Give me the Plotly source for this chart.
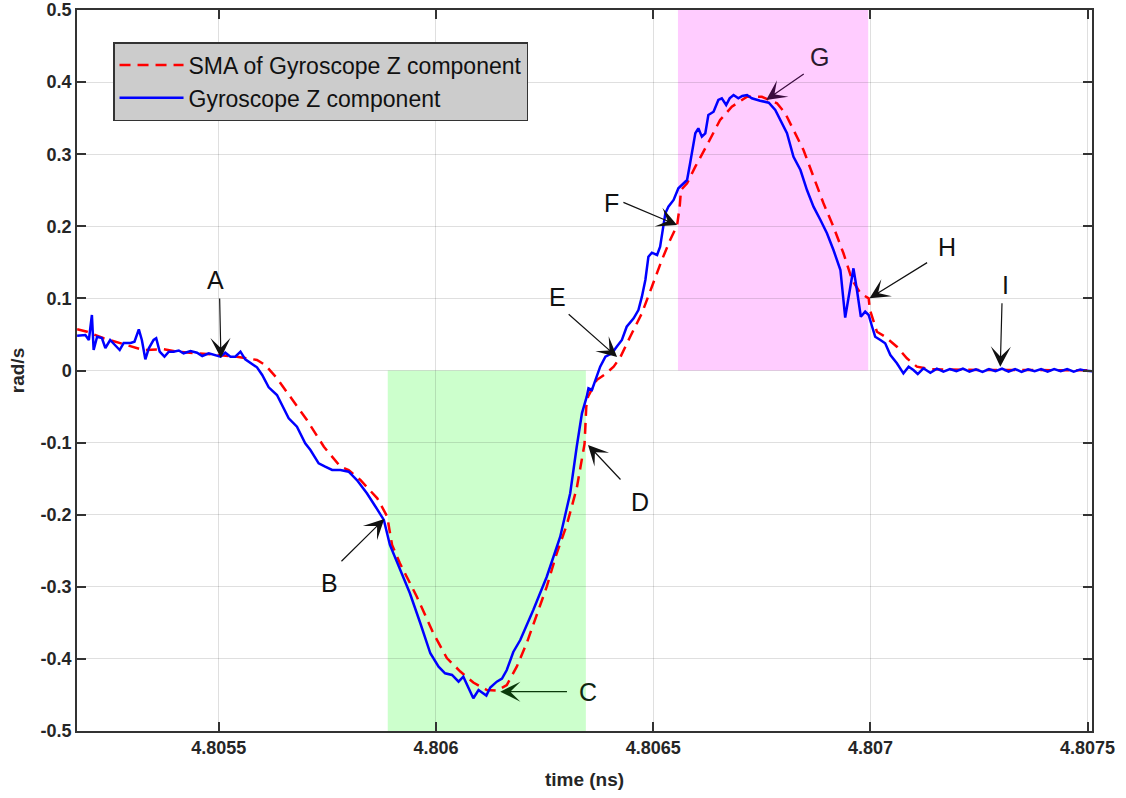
import plotly.graph_objects as go

# ---------------- data (time in ns, angular rate in rad/s) ----------------
gyro_time = [
    4.805174, 4.805193, 4.805201, 4.805208, 4.805212, 4.805220, 4.805231, 4.805239, 4.805250, 4.805262,
    4.805272, 4.805281, 4.805297, 4.805306, 4.805316, 4.805323, 4.805331, 4.805339, 4.805350, 4.805356,
    4.805364, 4.805375, 4.805385, 4.805396, 4.805408, 4.805419, 4.805435, 4.805450, 4.805462, 4.805477,
    4.805489, 4.805504, 4.805515, 4.805527, 4.805538, 4.805550, 4.805561, 4.805573, 4.805588, 4.805600,
    4.805615, 4.805634, 4.805646, 4.805661, 4.805680, 4.805699, 4.805711, 4.805730, 4.805745, 4.805761,
    4.805780, 4.805799, 4.805818, 4.805841, 4.805861, 4.805880, 4.805894, 4.805917, 4.805940, 4.805964,
    4.805987, 4.806006, 4.806021, 4.806037, 4.806052, 4.806063, 4.806071, 4.806079, 4.806086, 4.806098,
    4.806106, 4.806116, 4.806125, 4.806140, 4.806152, 4.806163, 4.806178, 4.806194, 4.806224, 4.806255,
    4.806286, 4.806309, 4.806324, 4.806336, 4.806347, 4.806351, 4.806359, 4.806367, 4.806378, 4.806390,
    4.806405, 4.806416, 4.806428, 4.806439, 4.806455, 4.806466, 4.806474, 4.806482, 4.806489, 4.806497,
    4.806509, 4.806516, 4.806524, 4.806528, 4.806535, 4.806547, 4.806558, 4.806570, 4.806578, 4.806585,
    4.806597, 4.806604, 4.806612, 4.806620, 4.806627, 4.806639, 4.806650, 4.806658, 4.806668, 4.806676,
    4.806685, 4.806696, 4.806705, 4.806716, 4.806727, 4.806746, 4.806766, 4.806781, 4.806793, 4.806808,
    4.806823, 4.806839, 4.806854, 4.806869, 4.806885, 4.806900, 4.806915, 4.806931, 4.806942, 4.806950,
    4.806961, 4.806969, 4.806978, 4.806988, 4.806996, 4.807004, 4.807011, 4.807023, 4.807034, 4.807046,
    4.807061, 4.807076, 4.807088, 4.807099, 4.807109, 4.807122, 4.807138, 4.807153, 4.807168, 4.807183,
    4.807198, 4.807213, 4.807228, 4.807243, 4.807258, 4.807273, 4.807288, 4.807303, 4.807318, 4.807333,
    4.807348, 4.807363, 4.807378, 4.807393, 4.807408, 4.807423, 4.807438, 4.807453, 4.807468, 4.807483,
    4.807498, 4.807511,
]
gyro_rate = [
    0.0483, 0.0492, 0.0423, 0.0770, 0.0284, 0.0469, 0.0451, 0.0312, 0.0423, 0.0354,
    0.0284, 0.0381, 0.0381, 0.0399, 0.0571, 0.0423, 0.0155, 0.0308, 0.0423, 0.0447,
    0.0261, 0.0191, 0.0261, 0.0261, 0.0277, 0.0239, 0.0270, 0.0247, 0.0201, 0.0239,
    0.0215, 0.0191, 0.0247, 0.0191, 0.0191, 0.0261, 0.0155, 0.0100, 0.0044, -0.0062,
    -0.0233, -0.0340, -0.0479, -0.0663, -0.0779, -0.1010, -0.1103, -0.1287, -0.1334, -0.1380,
    -0.1380, -0.1404, -0.1519, -0.1703, -0.1889, -0.2073, -0.2420, -0.2767, -0.3090, -0.3506,
    -0.3922, -0.4108, -0.4200, -0.4223, -0.4316, -0.4247, -0.4362, -0.4455, -0.4546, -0.4431,
    -0.4466, -0.4508, -0.4397, -0.4316, -0.4272, -0.4154, -0.3904, -0.3738, -0.3322, -0.2860,
    -0.2305, -0.1703, -0.1057, -0.0594, -0.0363, -0.0247, -0.0270, -0.0132, 0.0053, 0.0191,
    0.0239, 0.0330, 0.0423, 0.0607, 0.0724, 0.0839, 0.1024, 0.1255, 0.1578, 0.1634,
    0.1602, 0.1717, 0.1994, 0.2180, 0.2272, 0.2365, 0.2527, 0.2596, 0.2642, 0.2874,
    0.3290, 0.3359, 0.3243, 0.3290, 0.3544, 0.3589, 0.3752, 0.3775, 0.3682, 0.3775,
    0.3821, 0.3775, 0.3807, 0.3821, 0.3775, 0.3742, 0.3714, 0.3613, 0.3474, 0.3290,
    0.2965, 0.2781, 0.2503, 0.2272, 0.2087, 0.1903, 0.1671, 0.1394, 0.0735, 0.1024,
    0.1417, 0.1117, 0.0746, 0.0816, 0.0770, 0.0607, 0.0469, 0.0423, 0.0377, 0.0215,
    0.0100, -0.0039, 0.0053, 0.0007, -0.0049, 0.0031, -0.0031, 0.0025, -0.0015, 0.0020,
    -0.0010, 0.0025, -0.0015, 0.0015, -0.0020, 0.0020, -0.0010, 0.0025, -0.0015, 0.0020,
    -0.0020, 0.0015, -0.0010, 0.0020, -0.0015, 0.0020, -0.0010, 0.0020, -0.0015, 0.0015,
    -0.0005, -0.0010,
]

sma_time = [
    4.805174, 4.805197, 4.805235, 4.805289, 4.805327, 4.805373, 4.805404, 4.805481, 4.805542, 4.805588,
    4.805607, 4.805634, 4.805665, 4.805703, 4.805742, 4.805780, 4.805799, 4.805826, 4.805865, 4.805888,
    4.805893, 4.805899, 4.805917, 4.805956, 4.805994, 4.806025, 4.806056, 4.806086, 4.806117, 4.806140,
    4.806163, 4.806186, 4.806209, 4.806232, 4.806255, 4.806278, 4.806301, 4.806324, 4.806336, 4.806342,
    4.806346, 4.806350, 4.806370, 4.806390, 4.806409, 4.806424, 4.806447, 4.806474, 4.806497, 4.806520,
    4.806539, 4.806555, 4.806561, 4.806564, 4.806578, 4.806597, 4.806624, 4.806654, 4.806681, 4.806716,
    4.806750, 4.806785, 4.806804, 4.806823, 4.806846, 4.806869, 4.806892, 4.806915, 4.806938, 4.806958,
    4.806977, 4.806996, 4.806999, 4.807015, 4.807034, 4.807061, 4.807084, 4.807107, 4.807138, 4.807250,
    4.807400, 4.807511,
]
sma_rate = [
    0.0571, 0.0538, 0.0447, 0.0354, 0.0284, 0.0294, 0.0261, 0.0225, 0.0191, 0.0146,
    0.0076, -0.0108, -0.0363, -0.0687, -0.1057, -0.1334, -0.1380, -0.1519, -0.1773, -0.2028,
    -0.2212, -0.2420, -0.2674, -0.3137, -0.3645, -0.3988, -0.4175, -0.4327, -0.4431, -0.4441,
    -0.4362, -0.4108, -0.3779, -0.3391, -0.2999, -0.2535, -0.2143, -0.1634, -0.1255, -0.1019,
    -0.0502, -0.0363, -0.0132, -0.0049, 0.0053, 0.0180, 0.0469, 0.0793, 0.1162, 0.1533,
    0.1810, 0.2011, 0.2272, 0.2503, 0.2596, 0.2827, 0.3128, 0.3474, 0.3659, 0.3797,
    0.3797, 0.3706, 0.3567, 0.3336, 0.3058, 0.2688, 0.2319, 0.1994, 0.1626, 0.1255,
    0.1071, 0.1001, 0.0839, 0.0538, 0.0469, 0.0330, 0.0169, 0.0053, 0.0017, 0.0008,
    0.0005, 0.0003,
]

# shaded phases: (t_start, t_end, rate_low, rate_high)
green_band = [4.805889, 4.806345, -0.5, 0.0]
pink_band = [4.806557, 4.806995, 0.0, 0.5]

# annotations: label, text position, arrow tail, arrow tip
labels = ["A", "B", "C", "D", "E", "F", "G", "H", "I"]
label_t = [4.805493, 4.805755, 4.806350, 4.806469, 4.806279, 4.806405, 4.806882, 4.807176, 4.807311]
label_r = [0.1255, -0.2951, -0.4459, -0.1820, 0.1019, 0.2319, 0.4348, 0.1717, 0.1186]
tail_t = [4.805502, 4.805779, 4.806305, 4.806428, 4.806302, 4.806428, 4.806850, 4.807134, 4.807303]
tail_r = [0.1019, -0.2666, -0.4455, -0.1533, 0.0798, 0.2341, 0.4126, 0.1509, 0.0954]
tip_t = [4.805505, 4.805881, 4.806148, 4.806350, 4.806417, 4.806555, 4.806760, 4.806998, 4.807299]
tip_r = [0.0173, -0.2060, -0.4455, -0.1033, 0.0187, 0.2018, 0.3752, 0.1001, 0.0053]
arrow_colors = ["#111111", "#111111", "#0b3a0b", "#111111", "#111111", "#111111", "#3a0c3e", "#111111", "#111111"]
text_colors = ["#111111", "#111111", "#102610", "#111111", "#111111", "#111111", "#2a1a2e", "#111111", "#111111"]

x_ticks = [4.8055, 4.806, 4.8065, 4.807, 4.8075]
x_tick_text = ["4.8055", "4.806", "4.8065", "4.807", "4.8075"]
y_ticks = [-0.5, -0.4, -0.3, -0.2, -0.1, 0, 0.1, 0.2, 0.3, 0.4, 0.5]
y_tick_text = ["-0.5", "-0.4", "-0.3", "-0.2", "-0.1", "0", "0.1", "0.2", "0.3", "0.4", "0.5"]
x_range = [4.8051737, 4.8075101]
y_range = [-0.5, 0.5]

FONT = "Arial, 'Liberation Sans', Helvetica, sans-serif"
AX = "#333333"

fig = go.Figure()

fig.add_shape(type="rect", xref="x", yref="y",
              x0=green_band[0], x1=green_band[1], y0=green_band[2], y1=green_band[3],
              fillcolor="#ccffcc", line=dict(width=0), layer="below")
fig.add_shape(type="rect", xref="x", yref="y",
              x0=pink_band[0], x1=pink_band[1], y0=pink_band[2], y1=pink_band[3],
              fillcolor="#ffccff", line=dict(width=0), layer="below")

fig.add_trace(go.Scatter(x=sma_time, y=sma_rate, mode="lines",
                         name="SMA of Gyroscope Z component",
                         line=dict(color="#ff0000", width=2.5, dash="11px,7px")))
fig.add_trace(go.Scatter(x=gyro_time, y=gyro_rate, mode="lines",
                         name="Gyroscope Z component",
                         line=dict(color="#0000ff", width=2.5)))

for i, lab in enumerate(labels):
    fig.add_annotation(x=tip_t[i], y=tip_r[i], ax=tail_t[i], ay=tail_r[i],
                       xref="x", yref="y", axref="x", ayref="y",
                       text="", showarrow=True, arrowhead=3, arrowsize=2.8,
                       arrowwidth=1.2, arrowcolor=arrow_colors[i], standoff=0)
    fig.add_annotation(x=label_t[i], y=label_r[i], xref="x", yref="y",
                       text=lab, showarrow=False,
                       font=dict(family=FONT, size=25, color=text_colors[i]))

axis_common = dict(showline=True, linecolor=AX, linewidth=1.5, mirror="ticks",
                   ticks="inside", ticklen=9, tickwidth=1.5, tickcolor=AX,
                   showgrid=True, gridcolor="rgba(38,38,38,0.15)", gridwidth=1,
                   zeroline=False,
                   tickfont=dict(family=FONT, size=18, color="#262626", weight="bold"))

fig.update_xaxes(range=x_range, tickvals=x_ticks, ticktext=x_tick_text,
                 title=dict(text="time (ns)", standoff=15,
                            font=dict(family=FONT, size=19, color="#262626", weight="bold")),
                 **axis_common)
fig.update_yaxes(range=y_range, tickvals=y_ticks, ticktext=y_tick_text,
                 title=dict(text="rad/s", standoff=11,
                            font=dict(family=FONT, size=19, color="#262626", weight="bold")),
                 **axis_common)

fig.update_layout(
    width=1126, height=798,
    margin=dict(l=77, r=34, t=10, b=67, autoexpand=False),
    paper_bgcolor="white", plot_bgcolor="white",
    showlegend=True,
    legend=dict(x=0.0355, y=0.9556, xanchor="left", yanchor="top",
                bgcolor="#cccccc", bordercolor="#333333", borderwidth=1.5,
                font=dict(family=FONT, size=23, color="#111111"),
                itemwidth=64, tracegroupgap=0),
)

fig.write_html("out.html")
